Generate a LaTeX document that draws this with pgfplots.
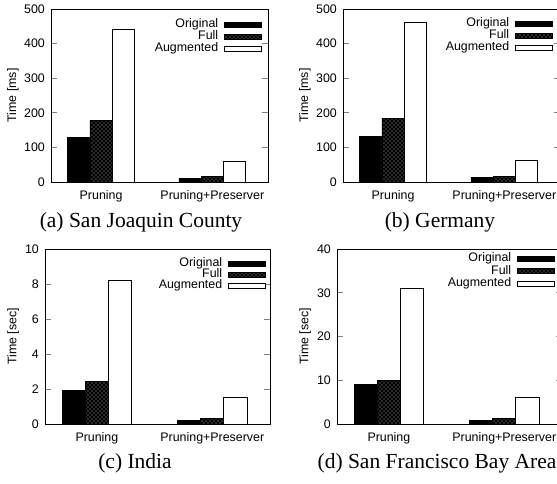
\documentclass[border=0pt]{standalone}
\usepackage{fontspec}
\setmainfont{Liberation Serif}
\newfontfamily\sansf{Liberation Sans}
\usepackage{pgfplots}
\pgfplotsset{compat=1.18}
\usetikzlibrary{patterns}
\pgfdeclarepatternformonly{mydots}{\pgfqpoint{-1pt}{-1pt}}{\pgfqpoint{5pt}{5pt}}{\pgfqpoint{4pt}{4pt}}{%
  \pgfpathcircle{\pgfqpoint{0pt}{0pt}}{0.65pt}%
  \pgfpathcircle{\pgfqpoint{2pt}{2pt}}{0.65pt}%
  \pgfusepath{fill}}
\newcommand{\axfont}{\sansf\fontsize{12.4}{14}\selectfont}
\pgfplotsset{
  panel/.style={
    scale only axis, ybar, bar width=0.2,
    xmin=-0.45, xmax=1.5, ymin=0, enlargelimits=false,
    xtick={0,1}, xticklabels={Pruning,Pruning+Preserver},
    xtick style={draw=none},
    tick align=inside, major tick length=6pt,
    ytick style={line width=0.8pt},
    axis line style={line width=0.8pt},
    /pgf/number format/assume math mode=true,
    tick label style={font=\axfont},
    label style={font=\axfont},
    yticklabel style={inner sep=0pt, xshift=-6pt},
    xticklabel style={inner sep=0pt, yshift=-8pt},
    every axis y label/.style={rotate=90, anchor=center, font=\axfont},
    legend cell align=right, legend plot pos=right,
    legend style={draw=none, fill=none, anchor=north east, at={(1,1)},
      inner sep=0pt, outer sep=0pt, column sep=6pt, row sep=0pt,
      font=\axfont,
      nodes={inner sep=0pt, text height=8.6pt, text depth=3.4pt}},
    legend image code/.code={\draw[##1] (0pt,-2.5pt) rectangle (37pt,2.5pt);},
  },
  orig/.style={draw=black, fill=black, line width=0.8pt, bar shift=-0.2},
  full/.style={draw=black, fill=black, line width=0.8pt, bar shift=0,
    postaction={pattern=mydots, pattern color=gray!55}},
  augm/.style={draw=black, fill=white, line width=0.8pt, bar shift=0.2},
}
\begin{document}
\begin{tikzpicture}
\useasboundingbox (0,0) rectangle (557pt,483pt);
\clip (0,0) rectangle (557pt,483pt);
% (a)
\begin{axis}[panel, at={(51pt,301pt)}, anchor=south west, width=217pt, height=173pt,
  ymax=500, ytick={0,100,200,300,400,500}, ylabel={Time [ms]},
  every axis y label/.append style={at={(axis description cs:-0.175,0.5)}},
  legend style={xshift=-6pt, yshift=-9.5pt}]
\addplot[orig] coordinates {(0,129) (1,11)};
\addplot[full] coordinates {(0,179) (1,17)};
\addplot[augm] coordinates {(0,441) (1,60)};
\legend{Original,Full,Augmented}
\end{axis}
% (b)
\begin{axis}[panel, at={(343pt,301pt)}, anchor=south west, width=217pt, height=173pt,
  ymax=500, ytick={0,100,200,300,400,500}, ylabel={Time [ms]},
  every axis y label/.append style={at={(axis description cs:-0.175,0.5)}},
  legend style={xshift=-7pt, yshift=-8.5pt}]
\addplot[orig] coordinates {(0,131) (1,12.5)};
\addplot[full] coordinates {(0,184) (1,17)};
\addplot[augm] coordinates {(0,461) (1,62)};
\legend{Original,Full,Augmented}
\end{axis}
% (c)
\begin{axis}[panel, at={(45pt,59pt)}, anchor=south west, width=225pt, height=175pt,
  ymax=10, ytick={0,2,4,6,8,10}, ylabel={Time [sec]},
  every axis y label/.append style={at={(axis description cs:-0.142,0.5)}},
  legend style={xshift=-4pt, yshift=-9.5pt, nodes={text height=7.8pt, text depth=3.2pt}}]
\addplot[orig] coordinates {(0,1.9) (1,0.21)};
\addplot[full] coordinates {(0,2.42) (1,0.3)};
\addplot[augm] coordinates {(0,8.2) (1,1.5)};
\legend{Original,Full,Augmented}
\end{axis}
% (d)
\begin{axis}[panel, at={(337pt,59pt)}, anchor=south west, width=225pt, height=175pt,
  ymax=40, ytick={0,10,20,30,40}, ylabel={Time [sec]},
  every axis y label/.append style={at={(axis description cs:-0.142,0.5)}},
  legend style={xshift=-7pt, yshift=-3.5pt, nodes={text height=9pt, text depth=3.5pt}}]
\addplot[orig] coordinates {(0,9.0) (1,0.85)};
\addplot[full] coordinates {(0,10.0) (1,1.35)};
\addplot[augm] coordinates {(0,31.0) (1,6.0)};
\legend{Original,Full,Augmented}
\end{axis}
\node[anchor=base, font=\fontsize{21.5}{24}\selectfont] at (141pt,255.5pt) {(a) San Joaquin County};
\node[anchor=base, font=\fontsize{21.5}{24}\selectfont] at (440pt,255.5pt) {(b) Germany};
\node[anchor=base, font=\fontsize{21.5}{24}\selectfont] at (135pt,14.5pt) {(c) India};
\node[anchor=base, font=\fontsize{21.5}{24}\selectfont] at (437pt,14.5pt) {(d) San Francisco Bay Area};
\end{tikzpicture}
\end{document}
